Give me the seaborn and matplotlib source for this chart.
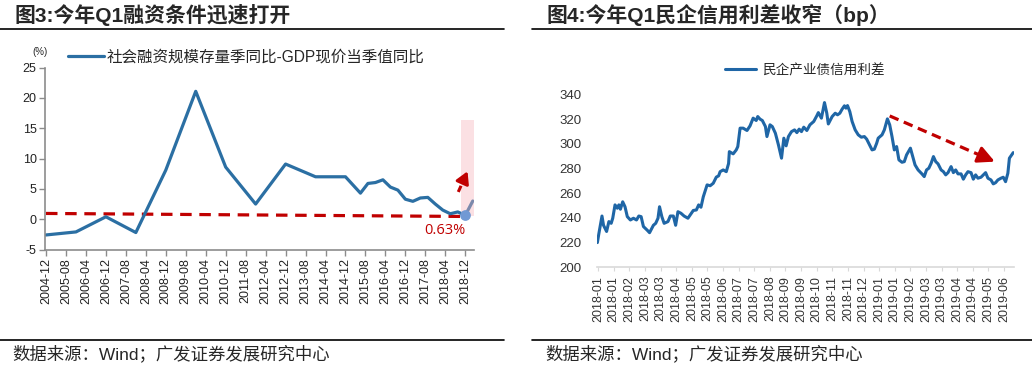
import numpy as np
import pandas as pd
import matplotlib.pyplot as plt
from matplotlib.lines import Line2D
from matplotlib.patches import Rectangle
import seaborn as sns

sns.set_style("white")
plt.rcParams['font.family'] = ['Liberation Sans', 'Noto Sans CJK SC']
plt.rcParams['axes.unicode_minus'] = False

# Figure 3: TSF stock yoy minus nominal GDP yoy (%)
tsf_dates = ["2004-12", "2005-12", "2006-12", "2007-12", "2008-12", "2009-12",
             "2010-12", "2011-12", "2012-12", "2013-12", "2014-12", "2015-06",
             "2015-09", "2015-12", "2016-03", "2016-06", "2016-09", "2016-12",
             "2017-03", "2017-06", "2017-09", "2017-12", "2018-03", "2018-06",
             "2018-09", "2018-12", "2019-03"]
tsf_gap = [-2.6, -2.1, 0.4, -2.2, 8.1, 21.1, 8.6, 2.5, 9.1, 7.0, 7.0, 4.3,
           5.9, 6.05, 6.5, 5.3, 4.8, 3.3, 2.95, 3.5, 3.6, 2.5, 1.5, 0.9,
           1.2, 0.63, 3.0]
left_xlabels = ["2004-12", "2005-08", "2006-04", "2006-12", "2007-08", "2008-04",
                "2008-12", "2009-08", "2010-04", "2010-12", "2011-08", "2012-04",
                "2012-12", "2013-08", "2014-04", "2014-12", "2015-08", "2016-04",
                "2016-12", "2017-08", "2018-04", "2018-12"]
trend_ends = [0.95, 0.45]          # dashed red reference line, start / end
last_low = 0.63

# Figure 4: private enterprise industrial bond credit spread (bp)
spread_days = [0, 2, 6, 8, 12, 15, 18, 20, 23, 26, 28, 30, 33, 36, 39, 43, 47, 51, 54, 57,
               60, 65, 68, 73, 76, 79, 81, 84, 87, 92, 95, 99, 102, 105, 109, 113, 118, 121,
               125, 129, 132, 135, 138, 143, 147, 151, 155, 158, 160, 164, 168, 171, 172,
               177, 181, 183, 186, 190, 195, 199, 203, 207, 209, 212, 215, 219, 221, 225,
               228, 232, 236, 240, 243, 246, 249, 253, 257, 260, 263, 266, 269, 273, 277,
               282, 286, 288, 292, 294, 296, 299, 301, 306, 310, 313, 316, 319, 322, 324,
               326, 329, 332, 336, 340, 344, 348, 351, 354, 358, 361, 364, 366, 371, 374,
               378, 381, 384, 387, 390, 393, 397, 400, 403, 408, 411, 414, 418, 423, 426,
               429, 432, 435, 438, 441, 444, 448, 451, 454, 457, 461, 464, 467, 470, 474,
               477, 480, 483, 487, 490, 493, 496, 500, 503, 506, 509, 513, 516, 519, 522,
               526, 529, 532, 535, 537, 540, 542]
spread_bp = [220, 227.5, 241.5, 234, 229, 237, 235.6, 239.7, 250.5, 247.8, 250.5, 247, 253,
             249, 241, 238.3, 239.7, 238.3, 241.5, 241, 233, 230, 228, 234, 235.6, 239.7,
             249, 241, 235.6, 237, 241.5, 241.5, 234, 245, 243.7, 241.5, 239.7, 242.4, 246,
             246.4, 250.5, 248.6, 257, 266.7, 266, 268, 273, 274, 277.4, 278.8, 277.4, 284,
             293.6, 291.8, 295, 297.7, 312.6, 312.6, 310.7, 314.5, 320.7, 318.8, 322, 319.9,
             318.8, 313.9, 305.8, 315.3, 313.9, 308.5, 299, 288.3, 304.5, 298.3, 305.8,
             309.8, 311.2, 309, 311.8, 309.8, 313.4, 310.7, 315.3, 318, 322.6, 325.2, 320.7,
             326.9, 333.3, 324.7, 316, 322, 324.7, 323.4, 324.7, 328, 330.7, 328.8, 330.9,
             326, 318, 311.2, 307.2, 305.3, 305.8, 303.7, 299.9, 295, 295.6, 300.4, 304.5,
             307.2, 311.2, 320.1, 315.3, 305.8, 295, 297.7, 286.9, 285, 285.5, 291, 296.4,
             289.6, 282.9, 278.8, 275.6, 273.4, 278.8, 280.2, 284.2, 289.6, 285.5, 283.7,
             278.8, 277.4, 274.8, 276.6, 281.5, 276.6, 278.8, 275.6, 275.6, 271.3, 274.8,
             277.4, 276.6, 271.3, 274.8, 272.1, 272.9, 274.8, 276.6, 272.1, 270.7, 267.5,
             268.5, 270.7, 272.1, 272.9, 269.3, 276.1, 288.3, 291, 292.8]
right_xlabels = ["2018-01", "2018-01", "2018-02", "2018-03", "2018-03", "2018-04",
                 "2018-05", "2018-05", "2018-06", "2018-07", "2018-07", "2018-08",
                 "2018-09", "2018-09", "2018-10", "2018-11", "2018-11", "2018-12",
                 "2019-01", "2019-01", "2019-02", "2019-03", "2019-03", "2019-04",
                 "2019-04", "2019-05", "2019-06"]
arrow_start = (381, 322.5)
arrow_end = (518, 285.5)

RED = "#c00000"
W, H = 1032, 369


def fx(px):
    return px / W


def fy(py):
    return 1 - py / H


def dashed_arrow(ax, start, end, head_frac, dash, lw, head):
    # dashed shaft, solid filled head
    (x0, y0), (x1, y1) = start, end
    xm = x1 - (x1 - x0) * head_frac
    ym = y1 - (y1 - y0) * head_frac
    ax.plot([x0, xm], [y0, ym], color=RED, lw=lw, ls=(0, dash),
            solid_capstyle="butt", dash_capstyle="butt", zorder=5)
    ax.annotate("", xy=(x1, y1), xytext=(xm, ym),
                arrowprops=dict(arrowstyle=head, color=RED, lw=lw,
                                shrinkA=0, shrinkB=0), zorder=5)


left = pd.DataFrame({"date": pd.to_datetime(tsf_dates), "gap": tsf_gap})
left["m"] = (left["date"].dt.year - 2004) * 12 + left["date"].dt.month - 12
right = pd.DataFrame({"day": spread_days, "bp": spread_bp})

fig = plt.figure(figsize=(W / 100, H / 100), dpi=100)

# ---------------- left chart ----------------
ax1 = fig.add_axes([fx(45), fy(249.5), fx(474) - fx(45), fy(67.7) - fy(249.5)])
sns.lineplot(data=left, x="m", y="gap", ax=ax1, color="#2b6fa3", lw=2.3,
             label="社会融资规模存量季同比-GDP现价当季值同比")
m_end = left["m"].iloc[-1]
m_low = left["m"].iloc[-2]
ax1.plot([0, m_low], trend_ends, color=RED, lw=2.3, ls=(0, (3.6, 2.4)), zorder=1)
ax1.add_patch(Rectangle((m_low - 1.8, 0.6), m_end - m_low + 2.3, 15.8,
                        color="#f7b3bb", alpha=0.4, lw=0, zorder=3))
ax1.scatter([m_low], [last_low], s=45, color="#7199d4", zorder=4)
dashed_arrow(ax1, (m_low - 2.8, 4.5), (m_low + 0.9, 7.9), 0.4, (2.2, 1.4), 2.2,
             "-|>,head_length=0.7,head_width=0.4")
ax1.text(m_low, -1.85, f"{last_low:.2f}%", color=RED, fontsize=10.5,
         ha="right", va="center", family=["Open Sans", "DejaVu Sans"])

ax1.set_xlim(-0.4, 171.5)
ax1.set_ylim(-5, 25)
ax1.set_yticks(np.arange(-5, 26, 5))
ax1.set_xticks(np.arange(0, 169, 8))
ax1.set_xticklabels(left_xlabels, rotation=90)
ax1.set_xlabel("")
ax1.set_ylabel("")
for s in ["top", "right"]:
    ax1.spines[s].set_visible(False)
for s in ["left", "bottom"]:
    ax1.spines[s].set_color("#8c8c8c")
    ax1.spines[s].set_linewidth(1.2)
ax1.tick_params(axis="both", direction="out", length=4, width=1, color="#8c8c8c",
                labelsize=9, labelcolor="#222222", pad=2)
ax1.tick_params(axis="y", left=True)
ax1.tick_params(axis="x", bottom=True)
ax1.legend(loc="center left", bbox_to_anchor=(fx(68), fy(57)),
           bbox_transform=fig.transFigure, frameon=False, fontsize=11.2,
           handlelength=2.3, handletextpad=0.2, borderpad=0, borderaxespad=0)
fig.text(fx(40), fy(52), "(%)", fontsize=7, ha="center", va="center")

# ---------------- right chart ----------------
ax2 = fig.add_axes([fx(597), fy(267.3), fx(1014) - fx(597), fy(94.3) - fy(267.3)])
sns.lineplot(data=right, x="day", y="bp", ax=ax2, color="#1f66a6", lw=2.2,
             label="民企产业债信用利差")
dashed_arrow(ax2, arrow_start, arrow_end, 0.14, (3, 1.8), 2.3,
             "-|>,head_length=1.0,head_width=0.5")
ax2.set_xlim(-0.5, 543)
ax2.set_ylim(200, 340)
ax2.set_yticks(np.arange(200, 341, 20))
ax2.set_xticks(np.linspace(1, 530, len(right_xlabels)))
ax2.set_xticklabels(right_xlabels, rotation=90)
ax2.set_xlabel("")
ax2.set_ylabel("")
for s in ["top", "right", "left"]:
    ax2.spines[s].set_visible(False)
ax2.spines["bottom"].set_color("#d9d9d9")
ax2.spines["bottom"].set_linewidth(1.2)
ax2.tick_params(axis="y", length=0, pad=11, labelsize=9.5, labelcolor="#333333")
ax2.tick_params(axis="x", bottom=True, direction="out", length=3, color="#d9d9d9",
                labelsize=9, labelcolor="#333333", pad=3)
ax2.legend(loc="center left", bbox_to_anchor=(fx(725), fy(70)),
           bbox_transform=fig.transFigure, frameon=False, fontsize=9.8,
           handlelength=2.3, handletextpad=0.4, borderpad=0, borderaxespad=0)

# ---------------- titles, rules, sources ----------------
fig.text(fx(14), fy(15), "图3:今年Q1融资条件迅速打开", fontsize=15, fontweight="bold",
         ha="left", va="center")
fig.text(fx(546), fy(15), "图4:今年Q1民企信用利差收窄（bp）", fontsize=15,
         fontweight="bold", ha="left", va="center")
for x0, x1 in [(0, 504), (532, 1032)]:
    for yy in [29, 340]:
        fig.add_artist(Line2D([fx(x0), fx(x1)], [fy(yy), fy(yy)], color="black", lw=1.2))
fig.text(fx(12), fy(353), "数据来源：Wind；广发证券发展研究中心", fontsize=12.5,
         ha="left", va="center")
fig.text(fx(545), fy(353), "数据来源：Wind；广发证券发展研究中心", fontsize=12.5,
         ha="left", va="center")

fig.savefig("out.png", dpi=100)
